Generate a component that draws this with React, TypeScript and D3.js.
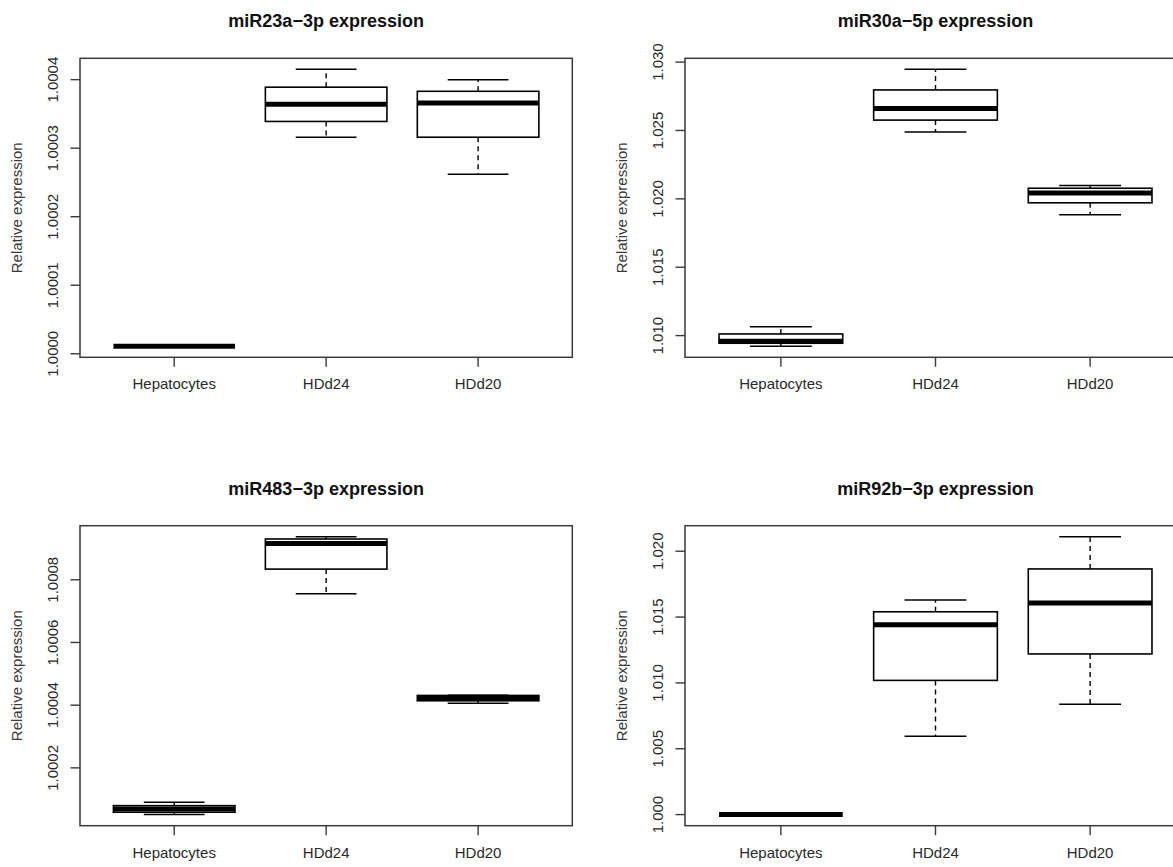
import React from "react";
import * as d3 from "d3";

// Groups shown on every panel
const categories = ["Hepatocytes", "HDd24", "HDd20"];

// Panel titles
const titles = [
  "miR23a\u22123p expression",
  "miR30a\u22125p expression",
  "miR483\u22123p expression",
  "miR92b\u22123p expression",
];

// Box summaries per group: [lower whisker, Q1, median, Q3, upper whisker]
const mir23aStats = [
  [1.000011, 1.000011, 1.000011, 1.000011, 1.000011],
  [1.000316, 1.000339, 1.000364, 1.000389, 1.000415],
  [1.000262, 1.000316, 1.000366, 1.000383, 1.0004],
];
const mir30aStats = [
  [1.009224, 1.009442, 1.009588, 1.010121, 1.010655],
  [1.024885, 1.025758, 1.026606, 1.027964, 1.029467],
  [1.018836, 1.019709, 1.020436, 1.020776, 1.02097],
];
const mir483Stats = [
  [1.000051, 1.0000585, 1.000069, 1.0000795, 1.00009],
  [1.000755, 1.000834, 1.000916, 1.00093, 1.000937],
  [1.000406, 1.000414, 1.000423, 1.000431, 1.000432],
];
const mir92bStats = [
  [1.0, 1.0, 1.0, 1.0, 1.0],
  [1.005947, 1.01019, 1.01441, 1.0154, 1.01629],
  [1.008386, 1.012198, 1.016061, 1.018653, 1.021093],
];

// Y-axis tick values
const mir23aTicks = [1.0, 1.0001, 1.0002, 1.0003, 1.0004];
const mir30aTicks = [1.01, 1.015, 1.02, 1.025, 1.03];
const mir483Ticks = [1.0002, 1.0004, 1.0006, 1.0008];
const mir92bTicks = [1.0, 1.005, 1.01, 1.015, 1.02];

const tickDecimals = [4, 3, 4, 3];

// Plot regions (pixel frames of each panel)
const frames = [
  { x0: 80, x1: 572.3, y0: 58.3, y1: 357.3 },
  { x0: 685, x1: 1186, y0: 58.3, y1: 357.3 },
  { x0: 80, x1: 572.3, y0: 525.7, y1: 825.7 },
  { x0: 685, x1: 1186, y0: 525.7, y1: 825.7 },
];

const FONT = "'Liberation Sans', Arial, Helvetica, sans-serif";
const TICK = 9.5;

type Frame = { x0: number; x1: number; y0: number; y1: number };

function BoxPanel({
  title,
  stats,
  ticks,
  decimals,
  frame,
}: {
  title: string;
  stats: number[][];
  ticks: number[];
  decimals: number;
  frame: Frame;
}) {
  const n = categories.length;
  // R-style axis extension: 4% of the range on each side
  const xlo = 0.5, xhi = n + 0.5;
  const xpad = (xhi - xlo) * 0.04;
  const x = d3.scaleLinear().domain([xlo - xpad, xhi + xpad]).range([frame.x0, frame.x1]);

  const all = stats.flat();
  const lo = d3.min(all) as number;
  const hi = d3.max(all) as number;
  const ypad = (hi - lo) * 0.04;
  const y = d3.scaleLinear().domain([lo - ypad, hi + ypad]).range([frame.y1, frame.y0]);

  const boxW = x(1.4) - x(0.6);
  const capW = boxW / 2;
  const cx = (frame.x0 + frame.x1) / 2;
  const cy = (frame.y0 + frame.y1) / 2;
  const fmt = d3.format(`.${decimals}f`);

  return (
    <g>
      <text
        x={cx}
        y={frame.y0 - 31}
        textAnchor="middle"
        fontFamily={FONT}
        fontWeight="bold"
        fontSize={18}
        fill="#111"
      >
        {title}
      </text>

      {stats.map((s, i) => {
        const c = x(i + 1);
        const [wl, q1, med, q3, wh] = s;
        return (
          <g key={i}>
            <line x1={c} x2={c} y1={y(q3)} y2={y(wh)} stroke="#000" strokeWidth={1.4} strokeDasharray="5,4" />
            <line x1={c} x2={c} y1={y(q1)} y2={y(wl)} stroke="#000" strokeWidth={1.4} strokeDasharray="5,4" />
            <line x1={c - capW / 2} x2={c + capW / 2} y1={y(wh)} y2={y(wh)} stroke="#000" strokeWidth={1.5} />
            <line x1={c - capW / 2} x2={c + capW / 2} y1={y(wl)} y2={y(wl)} stroke="#000" strokeWidth={1.5} />
            <rect
              x={c - boxW / 2}
              y={y(q3)}
              width={boxW}
              height={Math.max(0, y(q1) - y(q3))}
              fill="#fff"
              stroke="#000"
              strokeWidth={1.6}
            />
            <line x1={c - boxW / 2} x2={c + boxW / 2} y1={y(med)} y2={y(med)} stroke="#000" strokeWidth={5} />
          </g>
        );
      })}

      <rect
        x={frame.x0}
        y={frame.y0}
        width={frame.x1 - frame.x0}
        height={frame.y1 - frame.y0}
        fill="none"
        stroke="#3a3a3a"
        strokeWidth={1.5}
      />

      {ticks.map((t) => (
        <g key={t}>
          <line x1={frame.x0 - TICK} x2={frame.x0} y1={y(t)} y2={y(t)} stroke="#3a3a3a" strokeWidth={1.4} />
          <text
            x={frame.x0 - 27}
            y={y(t)}
            dy="0.35em"
            textAnchor="middle"
            transform={`rotate(-90, ${frame.x0 - 27}, ${y(t)})`}
            fontFamily={FONT}
            fontSize={15}
            fill="#2a2a2a"
          >
            {fmt(t)}
          </text>
        </g>
      ))}

      {categories.map((c, i) => (
        <g key={c}>
          <line x1={x(i + 1)} x2={x(i + 1)} y1={frame.y1} y2={frame.y1 + TICK} stroke="#3a3a3a" strokeWidth={1.4} />
          <text
            x={x(i + 1)}
            y={frame.y1 + 32}
            textAnchor="middle"
            fontFamily={FONT}
            fontSize={15}
            fill="#2a2a2a"
          >
            {c}
          </text>
        </g>
      ))}

      <text
        x={frame.x0 - 63}
        y={cy}
        dy="0.35em"
        textAnchor="middle"
        transform={`rotate(-90, ${frame.x0 - 63}, ${cy})`}
        fontFamily={FONT}
        fontSize={15}
        fill="#3a3a3a"
      >
        Relative expression
      </text>
    </g>
  );
}

export default function App() {
  const statsList = [mir23aStats, mir30aStats, mir483Stats, mir92bStats];
  const tickList = [mir23aTicks, mir30aTicks, mir483Ticks, mir92bTicks];
  return (
    <svg
      width={1173}
      height={867}
      style={{ position: "absolute", left: 0, top: 0, background: "#fff", overflow: "hidden" }}
    >
      <rect x={0} y={0} width={1173} height={867} fill="#fff" />
      {titles.map((t, i) => (
        <BoxPanel
          key={t}
          title={t}
          stats={statsList[i]}
          ticks={tickList[i]}
          decimals={tickDecimals[i]}
          frame={frames[i]}
        />
      ))}
    </svg>
  );
}
